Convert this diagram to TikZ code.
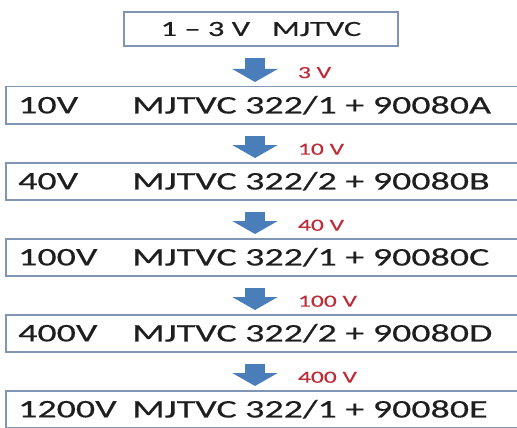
\documentclass[tikz,border=0pt]{standalone}
\usepackage{fontspec}
\setmainfont{Carlito}[FakeStretch=1.5, FakeBold=0.4]
\usetikzlibrary{arrows.meta}

\definecolor{boxline}{RGB}{128,150,180}
\definecolor{flowblue}{RGB}{74,126,187}
\definecolor{labelred}{RGB}{190,45,55}
\definecolor{inkgray}{RGB}{30,30,30}

\tikzset{
  topbox/.style={draw=boxline, line width=1.5pt, fill=white, text=inkgray,
    minimum width=274pt, minimum height=34pt, inner sep=0pt,
    font=\fontsize{21.6}{24}\selectfont},
  stagebox/.style={draw=boxline, line width=1.5pt, fill=white,
    minimum width=525pt, minimum height=37pt, inner sep=0pt, anchor=north west},
  stagetext/.style={anchor=west, inner sep=0pt, text=inkgray,
    font=\fontsize{25.3}{28}\selectfont},
  flowarrow/.style={flowblue, line width=20pt, -{Triangle[width=45pt,length=13pt]},
    shorten <=11pt, shorten >=4pt},
  steplabel/.style={pos=0.66, anchor=west, xshift=33pt, inner sep=0pt,
    text=labelred, font=\fontsize{17}{19}\selectfont}
}

\begin{document}
\begin{tikzpicture}[x=1pt, y=-1pt]
    \useasboundingbox (0,0) rectangle (517,428);
    \coordinate (axis) at (255,0);

    % Source box
    \node[topbox] (src) at (261,29) {1 -- 3 V\hspace{22pt}MJTVC};

    % Stage boxes
    \node[stagebox] (s1) at (5,86) {};
    \node[stagebox] (s2) at (5,162) {};
    \node[stagebox] (s3) at (5,238) {};
    \node[stagebox] (s4) at (5,314) {};
    \node[stagebox] (s5) at (5,390) {};

    % Stage texts
    \node[stagetext] (v1) at ([xshift=13pt]s1.west) {10V};
    \node[stagetext] (m1) at ([xshift=127pt]s1.west) {MJTVC 322/1 + 90080A};
    \node[stagetext] (v2) at ([xshift=13pt]s2.west) {40V};
    \node[stagetext] (m2) at ([xshift=127pt]s2.west) {MJTVC 322/2 + 90080B};
    \node[stagetext] (v3) at ([xshift=13pt]s3.west) {100V};
    \node[stagetext] (m3) at ([xshift=127pt]s3.west) {MJTVC 322/1 + 90080C};
    \node[stagetext] (v4) at ([xshift=13pt]s4.west) {400V};
    \node[stagetext] (m4) at ([xshift=127pt]s4.west) {MJTVC 322/2 + 90080D};
    \node[stagetext] (v5) at ([xshift=13pt]s5.west) {1200V};
    \node[stagetext] (m5) at ([xshift=127pt]s5.west) {MJTVC 322/1 + 90080E};

    % Arrows with input voltages
    \draw[flowarrow] (axis |- src.south) -- (axis |- s1.north) node[steplabel] (l1) {3 V};
    \draw[flowarrow] (axis |- s1.south) -- (axis |- s2.north) node[steplabel] (l2) {10 V};
    \draw[flowarrow] (axis |- s2.south) -- (axis |- s3.north) node[steplabel] (l3) {40 V};
    \draw[flowarrow] (axis |- s3.south) -- (axis |- s4.north) node[steplabel] (l4) {100 V};
    \draw[flowarrow] (axis |- s4.south) -- (axis |- s5.north) node[steplabel] (l5) {400 V};
\end{tikzpicture}
\end{document}
